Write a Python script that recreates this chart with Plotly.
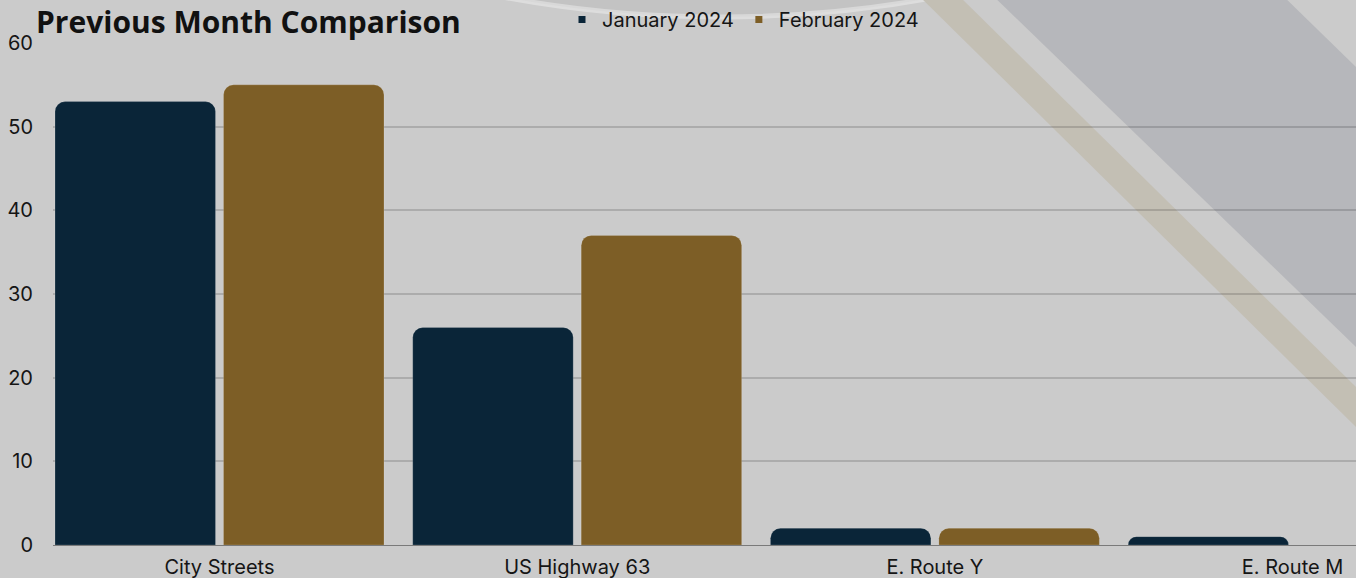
import plotly.graph_objects as go

categories = ["City Streets", "US Highway 63", "E. Route Y", "E. Route M"]
jan_2024 = [53, 26, 2, 1]
feb_2024 = [55, 37, 2, None]
series_names = ["January 2024", "February 2024"]
y_ticks = [0, 10, 20, 30, 40, 50, 60]

W, H = 1356, 578
ML, MR, MT, MB = 53, 0, 42, 33
PW, PH = W - ML - MR, H - MT - MB

def px(x):
    return (x - ML) / PW

def py(y):
    return (H - MB - y) / PH

def poly(points):
    return "M " + " L ".join(f"{px(a):.5f},{py(b):.5f}" for a, b in points) + " Z"

NAVY = "#0a2538"
GOLD = "#7d5e26"
BG = "#cbcbcb"

fig = go.Figure()
fig.add_trace(go.Bar(x=categories, y=jan_2024, name=series_names[0],
                     marker=dict(color=NAVY, cornerradius=10,
                                 line=dict(width=0.6, color="rgba(255,255,255,0.25)")),
                     showlegend=False))
fig.add_trace(go.Bar(x=categories, y=feb_2024, name=series_names[1],
                     marker=dict(color=GOLD, cornerradius=10,
                                 line=dict(width=0.6, color="rgba(255,255,255,0.25)")),
                     showlegend=False))
for nm, col in zip(series_names, [NAVY, GOLD]):
    fig.add_trace(go.Scatter(x=[None], y=[None], mode="markers", name=nm,
                             marker=dict(symbol="square", size=7, color=col),
                             showlegend=True))

shapes = []
cx, cy, r = 720, -1168, 1185
shapes.append(dict(type="circle", xref="paper", yref="paper", layer="below",
                   x0=px(cx - r), x1=px(cx + r), y0=py(cy + r), y1=py(cy - r),
                   fillcolor="rgba(0,0,0,0.035)",
                   line=dict(color="rgba(255,255,255,0.35)", width=5)))
shapes.append(dict(type="path", xref="paper", yref="paper", layer="below",
                   path=poly([(913, -10), (953, -10), (1356, 387), (1356, 427)]),
                   fillcolor="#c3bfb4", line=dict(width=0)))
shapes.append(dict(type="path", xref="paper", yref="paper", layer="below",
                   path=poly([(987, -10), (1277, -10), (1356, 67), (1356, 347)]),
                   fillcolor="#b6b7bb", line=dict(width=0)))

fig.update_layout(
    width=W, height=H,
    margin=dict(l=ML, r=MR, t=MT, b=MB, pad=0),
    paper_bgcolor=BG, plot_bgcolor="rgba(0,0,0,0)",
    barmode="group", bargap=0.058, bargroupgap=0.0475,
    shapes=shapes,
    font=dict(family="Inter", color="#151515"),
    legend=dict(orientation="h", x=px(562), xanchor="left", y=py(19), yanchor="middle",
                font=dict(family="Inter", size=20, color="#151515"),
                bgcolor="rgba(0,0,0,0)", itemwidth=30, tracegroupgap=0),
    annotations=[dict(text="<b>Previous Month Comparison</b>", xref="paper", yref="paper",
                      x=px(35), y=py(0), xanchor="left", yanchor="top", showarrow=False,
                      borderpad=0,
                      font=dict(family="Open Sans", size=30, color="#111111"))],
    xaxis=dict(range=[-0.4655, 3.1773], showgrid=False, showline=True,
               linecolor="#7a7a7a", linewidth=1.2, ticks="outside", ticklen=4,
               tickcolor="rgba(0,0,0,0)",
               tickfont=dict(family="Inter", size=20, color="#151515"), fixedrange=True),
    yaxis=dict(range=[0, 60.12], tickvals=y_ticks, showgrid=True,
               gridcolor="rgba(0,0,0,0.15)", gridwidth=1.5, zeroline=False,
               showline=False, ticks="outside", ticklen=15, tickcolor="rgba(0,0,0,0)",
               tickfont=dict(family="Inter", size=20, color="#151515")),
)

fig.write_html("out.html", config={"displayModeBar": False},
               post_script="document.body.style.margin='0';document.body.style.overflow='hidden';")
